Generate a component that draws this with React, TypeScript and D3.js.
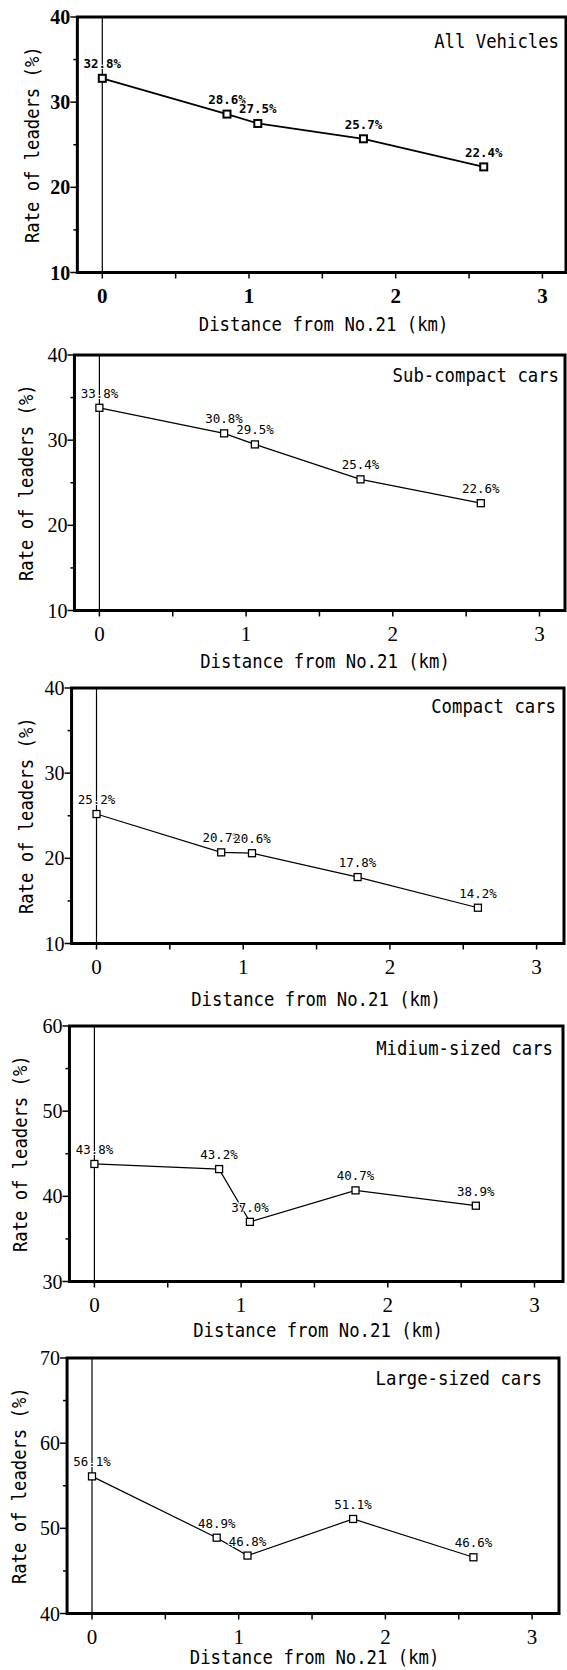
import React from 'react';
import * as d3 from 'd3';

// distance of each survey point from intersection No.21 (km)
const distances = [0, 0.85, 1.06, 1.78, 2.6];

const allVehicles = [32.8, 28.6, 27.5, 25.7, 22.4];
const subCompact = [33.8, 30.8, 29.5, 25.4, 22.6];
const compact = [25.2, 20.7, 20.6, 17.8, 14.2];
const midium = [43.8, 43.2, 37.0, 40.7, 38.9];
const large = [56.1, 48.9, 46.8, 51.1, 46.6];

const pointLabels = [
    ['32.8%', '28.6%', '27.5%', '25.7%', '22.4%'],
    ['33.8%', '30.8%', '29.5%', '25.4%', '22.6%'],
    ['25.2%', '20.7%', '20.6%', '17.8%', '14.2%'],
    ['43.8%', '43.2%', '37.0%', '40.7%', '38.9%'],
    ['56.1%', '48.9%', '46.8%', '51.1%', '46.6%'],
];

const panelTitles = ['All Vehicles', 'Sub-compact cars', 'Compact cars', 'Midium-sized cars', 'Large-sized cars'];
const panelValues = [allVehicles, subCompact, compact, midium, large];
const yDomains = [[10, 40], [10, 40], [10, 40], [30, 60], [40, 70]];

const xTickValues = [0, 0.5, 1, 1.5, 2, 2.5, 3];
const xLabelTicks = [0, 1, 2, 3];

const xTitle = 'Distance from No.21 (km)';
const yTitle = 'Rate of leaders (%)';

// page placement of each scanned panel
const layout = [
    { top: 17, x0: 102.3, right: 566, titleX: 559, titleY: 31, xLabelX: 323.6, xLabelY: 58, yLabelX: 39 },
    { top: 355, x0: 99.4, right: 565, titleX: 559, titleY: 27, xLabelX: 325, xLabelY: 57, yLabelX: 33 },
    { top: 688, x0: 96.5, right: 564, titleX: 556, titleY: 25, xLabelX: 316, xLabelY: 62, yLabelX: 33 },
    { top: 1026, x0: 94.4, right: 563, titleX: 553, titleY: 29, xLabelX: 318, xLabelY: 55, yLabelX: 27 },
    { top: 1358, x0: 92, right: 559, titleX: 542, titleY: 27, xLabelX: 314.6, xLabelY: 50, yLabelX: 26 },
];

const plotH = 255.5;
const kmPx = 146.7;
const mono = "'DejaVu Sans Mono', 'Liberation Mono', monospace";
const serif = "'Liberation Serif', 'DejaVu Serif', serif";
const charW = 10.4;

const Panel = ({ i }: { i: number }) => {
    const L = layout[i];
    const values = panelValues[i];
    const bold = i === 0;
    const x = d3.scaleLinear().domain([0, 3]).range([L.x0, L.x0 + 3 * kmPx]);
    const y = d3.scaleLinear().domain(yDomains[i]).range([L.top + plotH, L.top]);
    const left = x(-0.17);
    const bottom = L.top + plotH;
    const [y0, y1] = yDomains[i];
    const majors = d3.range(y0, y1 + 0.1, 10);
    const minors = d3.range(y0 + 5, y1, 10);
    const pts = distances.map((d, k) => [d, values[k]] as [number, number]);
    const line = d3.line<[number, number]>().x(d => x(d[0])).y(d => y(d[1]));
    const ms = 7;

    return (
        <g>
            {/* vertical reference line at No.21 */}
            <line x1={x(0)} x2={x(0)} y1={L.top} y2={bottom} stroke="#000" strokeWidth={1.2} />
            <path d={line(pts) || ''} fill="none" stroke="#000" strokeWidth={bold ? 1.8 : 1.2} />
            {pts.map((p, k) => (
                <rect key={k} x={x(p[0]) - ms / 2} y={y(p[1]) - ms / 2} width={ms} height={ms}
                    fill="#fff" stroke="#000" strokeWidth={bold ? 2 : 1.3} />
            ))}
            {pts.map((p, k) => (
                <text key={'l' + k} x={x(p[0])} y={y(p[1]) - 10} textAnchor="middle"
                    fontFamily={mono} fontSize={12} fontWeight={bold ? 'bold' : 'normal'}
                    textLength={37.5} lengthAdjust="spacingAndGlyphs"
                    stroke="#fff" strokeWidth={2} paintOrder="stroke" fill="#000">
                    {pointLabels[i][k]}
                </text>
            ))}
            {/* frame */}
            <rect x={left} y={L.top} width={L.right - left} height={plotH} fill="none" stroke="#000" strokeWidth={3} />
            {majors.map(v => (
                <g key={'m' + v}>
                    <line x1={left - 7} x2={left} y1={y(v)} y2={y(v)} stroke="#000" strokeWidth={1.5} />
                    <text x={left - 7} y={y(v)} dy="0.35em" textAnchor="end" fontFamily={serif}
                        fontSize={20} fontWeight={bold ? 'bold' : 'normal'}>{v}</text>
                </g>
            ))}
            {minors.map(v => (
                <line key={'n' + v} x1={left - 4} x2={left} y1={y(v)} y2={y(v)} stroke="#000" strokeWidth={1.5} />
            ))}
            {xTickValues.map(v => (
                <line key={'x' + v} x1={x(v)} x2={x(v)} y1={bottom} y2={bottom + 6} stroke="#000" strokeWidth={1.5} />
            ))}
            {xLabelTicks.map(v => (
                <text key={'xl' + v} x={x(v)} y={bottom + 30} textAnchor="middle" fontFamily={serif}
                    fontSize={21} fontWeight={bold ? 'bold' : 'normal'}>{v}</text>
            ))}
            <text x={L.titleX} y={L.top + L.titleY} textAnchor="end" fontFamily={mono} fontSize={20}
                textLength={panelTitles[i].length * charW} lengthAdjust="spacingAndGlyphs">
                {panelTitles[i]}
            </text>
            <text x={L.xLabelX} y={bottom + L.xLabelY} textAnchor="middle" fontFamily={mono} fontSize={20}
                textLength={xTitle.length * charW} lengthAdjust="spacingAndGlyphs">
                {xTitle}
            </text>
            <text transform={`translate(${L.yLabelX},${L.top + plotH / 2}) rotate(-90)`} textAnchor="middle"
                fontFamily={mono} fontSize={20} textLength={yTitle.length * 10.35} lengthAdjust="spacingAndGlyphs">
                {yTitle}
            </text>
        </g>
    );
};

const App = () => {
    return (
        <svg width={567} height={1670} style={{ position: 'absolute', left: 0, top: 0, background: '#fff' }}>
            <rect width={567} height={1670} fill="#fff" />
            {panelTitles.map((_, i) => <Panel key={i} i={i} />)}
        </svg>
    );
};

export default App;
